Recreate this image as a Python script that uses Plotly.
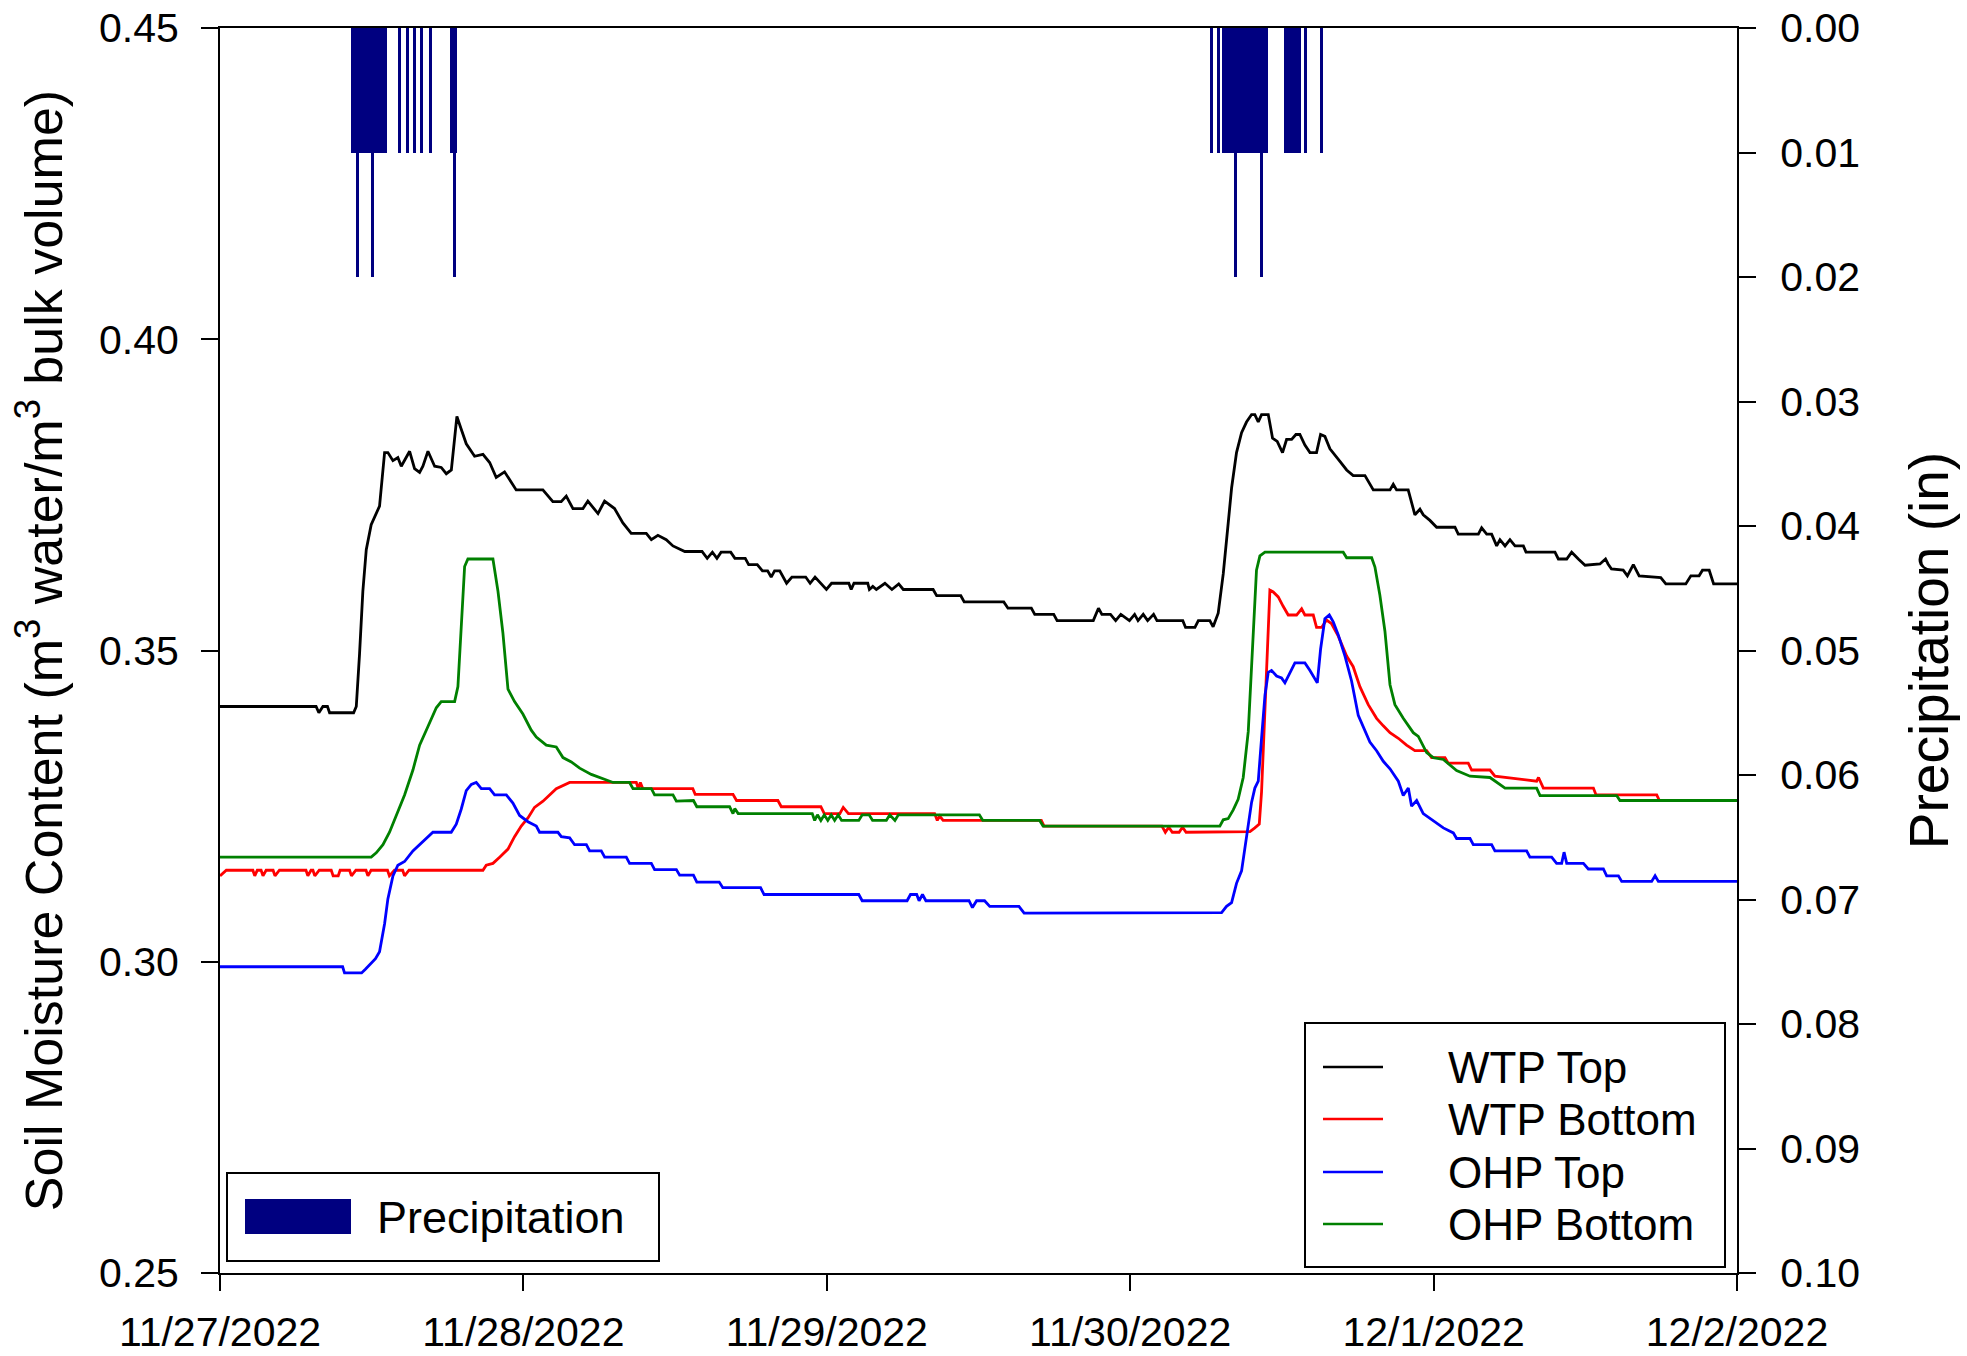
import pandas as pd
import plotly.graph_objects as go

# ---------------------------------------------------------------
# Data: soil moisture (m3/m3) read at hours after 11/27/2022 00:00
# ---------------------------------------------------------------
wtp_top_h = [0, 7.6, 7.82, 8.14, 8.5, 8.67, 10.57, 10.78, 11.04, 11.30, 11.57, 11.96, 12.62, 13.02,
             13.28, 13.68, 14.07, 14.34, 15.0, 15.39, 15.79, 16.05, 16.45, 16.98, 17.5, 17.9, 18.3,
             18.74, 19.09, 19.48, 20.14, 20.8, 21.33, 21.85, 22.51, 23.43, 25.54, 26.33, 26.99, 27.39,
             27.92, 28.71, 29.1, 29.9, 30.42, 31.21, 31.87, 32.53, 33.72, 34.12, 34.64, 35.3, 35.83,
             36.77, 38.13, 38.54, 38.95, 39.31, 39.64, 40.4, 40.73, 41.55, 41.82, 42.5, 42.91, 43.32,
             43.6, 43.87, 44.28, 44.82, 45.24, 46.33, 46.68, 47.07, 47.97, 48.38, 49.74, 49.93, 50.15,
             51.24, 51.37, 51.64, 51.92, 52.6, 53.15, 53.69, 54.05, 56.41, 56.69, 58.6, 58.87, 62.0,
             62.33, 64.18, 64.45, 65.95, 66.22, 69.08, 69.49, 69.76, 70.44, 70.85, 71.26, 71.94, 72.35,
             72.62, 73.03, 73.38, 73.85, 74.12, 76.16, 76.38, 77.12, 77.39, 78.3, 78.56, 78.96, 79.36,
             79.75, 80.02, 80.41, 80.81, 81.2, 81.6, 81.86, 82.13, 82.39, 82.92, 83.26, 83.63, 84.05,
             84.37, 84.77, 85.11, 85.42, 85.82, 86.22, 86.74, 87.06, 87.4, 87.8, 88.19, 88.59, 89.12,
             89.64, 90.57, 91.23, 92.55, 92.81, 93.07, 93.99, 94.52, 94.92, 95.18, 95.71, 96.24, 97.69,
             97.95, 99.54, 99.8, 100.2, 100.59, 100.99, 101.25, 101.65, 102.04, 102.44, 103.1, 103.31,
             105.6, 105.87, 106.53, 106.92, 107.45, 107.98, 109.16, 109.6, 109.8, 110.07, 111.0,
             111.33, 111.8, 112.26, 113.97, 114.37, 115.95, 116.35, 117.0, 117.27, 117.8, 118.15, 120.0]
wtp_top_v = [0.341, 0.341, 0.340, 0.341, 0.341, 0.340, 0.340, 0.341, 0.3495, 0.3595, 0.3662, 0.3702,
             0.3732, 0.3818, 0.3818, 0.3805, 0.381, 0.3796, 0.382, 0.3792, 0.3786, 0.3796, 0.382,
             0.3796, 0.3794, 0.3784, 0.379, 0.3876, 0.3855, 0.3832, 0.3812, 0.3815, 0.3802, 0.3778,
             0.3787, 0.3758, 0.3758, 0.3739, 0.3739, 0.3748, 0.3728, 0.3728, 0.374, 0.372, 0.374,
             0.3728, 0.3705, 0.3688, 0.3688, 0.3678, 0.3685, 0.3678, 0.3668, 0.3659, 0.3659, 0.3648,
             0.3658, 0.3648, 0.3658, 0.3658, 0.3648, 0.3648, 0.3638, 0.3638, 0.3628, 0.3628, 0.3618,
             0.3628, 0.3628, 0.3608, 0.3618, 0.3618, 0.3608, 0.3618, 0.3598, 0.3608, 0.3608, 0.3598,
             0.3608, 0.3608, 0.3598, 0.3603, 0.3598, 0.3608, 0.3598, 0.3607, 0.3598, 0.3598, 0.3588,
             0.3588, 0.3578, 0.3578, 0.3568, 0.3568, 0.3558, 0.3558, 0.3548, 0.3548, 0.3568, 0.3558,
             0.3558, 0.3548, 0.3558, 0.3548, 0.3558, 0.3548, 0.3558, 0.3548, 0.3558, 0.3548, 0.3548,
             0.3537, 0.3537, 0.3548, 0.3548, 0.3538, 0.3560, 0.3623, 0.3704, 0.3761, 0.3818, 0.3850,
             0.3867, 0.3879, 0.3879, 0.3867, 0.3879, 0.3879, 0.3841, 0.3836, 0.3818, 0.3839, 0.3839,
             0.3847, 0.3847, 0.3830, 0.3818, 0.3818, 0.3847, 0.3844, 0.3824, 0.3815, 0.3804, 0.3790,
             0.3781, 0.3781, 0.3758, 0.3758, 0.3767, 0.3758, 0.3758, 0.3718, 0.3727, 0.3718, 0.3709,
             0.3698, 0.3698, 0.3687, 0.3687, 0.3697, 0.3687, 0.3687, 0.3668, 0.3678, 0.3668, 0.3678,
             0.3668, 0.3668, 0.3658, 0.3658, 0.3647, 0.3647, 0.3658, 0.3647, 0.3637, 0.3639, 0.3647,
             0.3639, 0.3631, 0.3629, 0.3620, 0.3638, 0.3620, 0.3617, 0.3607, 0.3607, 0.3620, 0.3620,
             0.3629, 0.3629, 0.3607, 0.3607]

wtp_bot_h = [0, 0.5, 2.6, 2.75, 2.95, 3.25, 3.4, 3.65, 4.2, 4.35, 4.7, 6.8, 6.95, 7.2, 7.35, 7.5, 7.85,
             8.8, 8.95, 9.35, 9.5, 10.25, 10.4, 10.75, 11.55, 11.7, 11.95, 13.25, 13.4, 13.8, 14.45,
             14.6, 14.95, 20.8, 21.06, 21.59, 22.12, 22.78, 23.3, 23.83, 24.36, 24.88, 25.55, 26.07,
             26.6, 27.66, 32.93, 33.1, 33.25, 33.45, 37.4, 37.59, 40.58, 40.86, 44.13, 44.4, 47.53,
             47.8, 49.03, 49.3, 49.71, 56.53, 56.74, 56.93, 57.2, 64.97, 65.19, 74.51, 74.78, 75.05,
             75.33, 75.87, 76.14, 76.42, 81.47, 81.86, 82.21, 82.39, 82.66, 83.05, 83.31, 83.71, 84.1,
             84.5, 85.16, 85.56, 85.82, 86.48, 86.74, 87.14, 87.53, 87.93, 88.46, 89.12, 89.64, 90.17,
             90.83, 91.49, 92.02, 92.55, 93.21, 93.86, 94.52, 95.45, 95.84, 96.9, 97.16, 98.74, 99.01,
             100.46, 100.85, 104.15, 104.3, 104.68, 108.64, 108.85, 113.65, 113.86]
wtp_bot_v = [0.3138, 0.3147, 0.3147, 0.3138, 0.3147, 0.3147, 0.3138, 0.3147, 0.3147, 0.3138, 0.3147,
             0.3147, 0.3138, 0.3147, 0.3147, 0.3138, 0.3147, 0.3147, 0.3138, 0.3138, 0.3147, 0.3147,
             0.3138, 0.3147, 0.3147, 0.3138, 0.3147, 0.3147, 0.3138, 0.3147, 0.3147, 0.3138, 0.3147,
             0.3147, 0.3155, 0.3158, 0.3168, 0.3181, 0.3201, 0.3218, 0.3231, 0.3248, 0.3258, 0.3268,
             0.3278, 0.3288, 0.3288, 0.3278, 0.3288, 0.3278, 0.3278, 0.3269, 0.3269, 0.3259, 0.3259,
             0.3249, 0.3249, 0.3238, 0.3238, 0.3248, 0.3238, 0.3238, 0.3227, 0.3234, 0.3227, 0.3227,
             0.3218, 0.3218, 0.3208, 0.3216, 0.3208, 0.3208, 0.3216, 0.3208, 0.3209, 0.3215, 0.3221,
             0.3273, 0.3416, 0.3597, 0.3594, 0.3586, 0.3571, 0.3557, 0.3557, 0.3567, 0.3557, 0.3557,
             0.3537, 0.3537, 0.3549, 0.3543, 0.3523, 0.3491, 0.3474, 0.3442, 0.3413, 0.3391, 0.3379,
             0.3368, 0.3359, 0.3348, 0.3339, 0.3339, 0.3328, 0.3328, 0.3319, 0.3319, 0.3308, 0.3308,
             0.3298, 0.3290, 0.3296, 0.3279, 0.3279, 0.3268, 0.3268, 0.3259]

ohp_top_h = [0, 9.7, 9.85, 11.2, 11.5, 12.0, 12.3, 12.62, 13.02, 13.28, 13.68, 14.07, 14.6, 15.26, 15.79,
             16.45, 16.84, 18.29, 18.69, 19.08, 19.48, 19.88, 20.27, 20.67, 21.33, 21.72, 22.65, 23.17,
             23.7, 24.36, 25.02, 25.28, 26.73, 27.0, 27.66, 28.05, 28.98, 29.24, 30.16, 30.43, 32.14,
             32.4, 34.12, 34.38, 36.1, 36.36, 37.45, 37.72, 39.49, 39.77, 42.76, 43.04, 50.53, 50.8,
             54.35, 54.62, 55.11, 55.3, 55.57, 55.84, 59.25, 59.52, 59.85, 60.48, 60.89, 63.2, 63.61,
             79.23, 79.62, 80.02, 80.41, 80.81, 81.2, 81.6, 81.86, 82.13, 82.39, 82.66, 82.92, 83.18,
             83.58, 83.97, 84.24, 84.63, 85.03, 85.82, 86.22, 86.8, 87.06, 87.4, 87.75, 88.06, 88.46,
             88.99, 89.51, 90.04, 90.44, 90.96, 91.49, 92.02, 92.55, 93.21, 93.6, 94.0, 94.26, 94.66,
             95.18, 95.98, 96.77, 97.56, 97.82, 98.88, 99.14, 100.59, 100.85, 103.36, 103.62, 105.34,
             105.73, 106.13, 106.32, 106.53, 107.85, 108.24, 109.43, 109.69, 110.62, 110.88, 113.25,
             113.52, 113.78, 120.0]
ohp_top_v = [0.2992, 0.2992, 0.2982, 0.2982, 0.2988, 0.2998, 0.3005, 0.3016, 0.3061, 0.3101, 0.3138,
             0.3155, 0.3161, 0.3178, 0.3188, 0.3201, 0.3208, 0.3208, 0.3221, 0.3245, 0.3275, 0.3285,
             0.3288, 0.3278, 0.3278, 0.3268, 0.3268, 0.3255, 0.3235, 0.3225, 0.3218, 0.3208, 0.3208,
             0.3201, 0.3199, 0.3188, 0.3188, 0.3178, 0.3178, 0.3168, 0.3168, 0.3158, 0.3158, 0.3148,
             0.3148, 0.3139, 0.3139, 0.3128, 0.3128, 0.3119, 0.3119, 0.3108, 0.3108, 0.3098, 0.3098,
             0.3108, 0.3108, 0.3098, 0.3108, 0.3098, 0.3098, 0.3087, 0.3098, 0.3098, 0.3089, 0.3089,
             0.3078, 0.3079, 0.3089, 0.3095, 0.3126, 0.3146, 0.3198, 0.3256, 0.3279, 0.3290, 0.3359,
             0.3428, 0.3465, 0.3468, 0.3459, 0.3456, 0.3448, 0.3465, 0.3480, 0.3480, 0.3468, 0.3448,
             0.3502, 0.3551, 0.3557, 0.3546, 0.3525, 0.3491, 0.3451, 0.3396, 0.3376, 0.3353, 0.3339,
             0.3322, 0.3310, 0.3290, 0.3267, 0.3279, 0.3250, 0.3259, 0.3238, 0.3227, 0.3215, 0.3207,
             0.3198, 0.3198, 0.3188, 0.3188, 0.3178, 0.3178, 0.3168, 0.3168, 0.3158, 0.3158, 0.3176,
             0.3158, 0.3158, 0.3149, 0.3149, 0.3138, 0.3138, 0.3129, 0.3129, 0.3138, 0.3129, 0.3129]

ohp_bot_h = [0, 11.96, 12.36, 12.89, 13.41, 13.94, 14.6, 15.26, 15.79, 16.45, 17.11, 17.5, 18.56, 18.82,
             19.08, 19.35, 19.61, 21.59, 21.99, 22.38, 22.78, 23.3, 23.96, 24.62, 25.02, 25.81, 26.6,
             27.13, 27.79, 28.45, 29.37, 31.09, 32.4, 32.67, 34.12, 34.38, 35.83, 36.1, 37.45, 37.72,
             40.31, 40.58, 40.72, 40.99, 46.85, 47.04, 47.26, 47.53, 47.8, 48.08, 48.35, 48.62, 48.9,
             49.17, 50.53, 50.8, 51.35, 51.62, 52.71, 52.98, 53.39, 53.66, 60.07, 60.34, 64.84, 65.11,
             79.09, 79.36, 79.75, 80.15, 80.54, 80.94, 81.34, 81.6, 81.86, 81.99, 82.26, 82.66, 88.85,
             89.12, 91.1, 91.36, 91.75, 92.15, 92.55, 92.94, 93.6, 94.39, 94.79, 95.45, 95.98, 96.77,
             97.82, 98.88, 100.46, 101.65, 104.15, 104.42, 110.48, 110.74, 120.0]
ohp_bot_v = [0.3168, 0.3168, 0.3175, 0.3188, 0.3208, 0.3235, 0.3268, 0.3308, 0.3348, 0.3378, 0.3408,
             0.3418, 0.3418, 0.3442, 0.3535, 0.3635, 0.3647, 0.3647, 0.3595, 0.3528, 0.3438, 0.3418,
             0.3398, 0.3372, 0.3361, 0.3348, 0.3345, 0.3328, 0.3321, 0.3311, 0.3301, 0.3288, 0.3288,
             0.3278, 0.3278, 0.3268, 0.3268, 0.3258, 0.3259, 0.3249, 0.3249, 0.3238, 0.3246, 0.3238,
             0.3238, 0.3227, 0.3236, 0.3227, 0.3236, 0.3227, 0.3236, 0.3227, 0.3236, 0.3227, 0.3227,
             0.3236, 0.3236, 0.3227, 0.3227, 0.3236, 0.3227, 0.3236, 0.3236, 0.3227, 0.3227, 0.3218,
             0.3218, 0.3228, 0.3230, 0.3244, 0.3261, 0.3296, 0.3370, 0.3474, 0.3577, 0.3629, 0.3652,
             0.3658, 0.3658, 0.3649, 0.3649, 0.3634, 0.3589, 0.3531, 0.3445, 0.3413, 0.3391, 0.3368,
             0.3362, 0.3336, 0.3328, 0.3325, 0.3307, 0.3298, 0.3296, 0.3279, 0.3279, 0.3267, 0.3267,
             0.3259, 0.3259]

# Precipitation (in) per reading
precip_time = ["2022-11-27 10:30", "2022-11-27 10:40", "2022-11-27 10:51", "2022-11-27 11:00",
               "2022-11-27 11:10", "2022-11-27 11:20", "2022-11-27 11:30", "2022-11-27 11:40",
               "2022-11-27 11:50", "2022-11-27 12:00", "2022-11-27 12:06", "2022-11-27 12:15",
               "2022-11-27 12:25", "2022-11-27 12:35", "2022-11-27 12:45", "2022-11-27 12:55",
               "2022-11-27 13:05", "2022-11-27 14:11", "2022-11-27 14:49", "2022-11-27 15:22",
               "2022-11-27 15:55", "2022-11-27 16:38", "2022-11-27 18:20", "2022-11-27 18:32",
               "2022-11-27 18:40",
               "2022-11-30 06:28", "2022-11-30 06:59", "2022-11-30 07:25", "2022-11-30 07:35",
               "2022-11-30 07:45", "2022-11-30 07:55", "2022-11-30 08:05", "2022-11-30 08:12",
               "2022-11-30 08:19", "2022-11-30 08:30", "2022-11-30 08:40", "2022-11-30 08:50",
               "2022-11-30 09:00", "2022-11-30 09:10", "2022-11-30 09:20", "2022-11-30 09:30",
               "2022-11-30 09:40", "2022-11-30 09:50", "2022-11-30 10:00", "2022-11-30 10:10",
               "2022-11-30 10:18", "2022-11-30 10:25", "2022-11-30 10:35", "2022-11-30 10:42",
               "2022-11-30 10:49", "2022-11-30 12:15", "2022-11-30 12:25", "2022-11-30 12:35",
               "2022-11-30 12:45", "2022-11-30 12:55", "2022-11-30 13:05", "2022-11-30 13:15",
               "2022-11-30 13:25", "2022-11-30 13:50", "2022-11-30 15:08"]
precip_in = [0.01, 0.01, 0.02, 0.01, 0.01, 0.01, 0.01, 0.01, 0.01, 0.01, 0.02, 0.01, 0.01, 0.01, 0.01,
             0.01, 0.01, 0.01, 0.01, 0.01, 0.01, 0.01, 0.01, 0.02, 0.01,
             0.01, 0.01, 0.01, 0.01, 0.01, 0.01, 0.01, 0.01, 0.02, 0.01, 0.01, 0.01, 0.01, 0.01, 0.01,
             0.01, 0.01, 0.01, 0.01, 0.01, 0.01, 0.02, 0.01, 0.01, 0.01, 0.01, 0.01, 0.01, 0.01, 0.01,
             0.01, 0.01, 0.01, 0.01, 0.01]

series_names = ["WTP Top", "WTP Bottom", "OHP Top", "OHP Bottom"]
series_colors = ["#000000", "#ff0000", "#0000ff", "#008000"]
series_data = [(wtp_top_h, wtp_top_v), (wtp_bot_h, wtp_bot_v),
               (ohp_top_h, ohp_top_v), (ohp_bot_h, ohp_bot_v)]

date_ticks = ["2022-11-27", "2022-11-28", "2022-11-29", "2022-11-30", "2022-12-01", "2022-12-02"]
date_labels = ["11/27/2022", "11/28/2022", "11/29/2022", "11/30/2022", "12/1/2022", "12/2/2022"]
moisture_ticks = [0.25, 0.30, 0.35, 0.40, 0.45]
precip_ticks = [0.00, 0.01, 0.02, 0.03, 0.04, 0.05, 0.06, 0.07, 0.08, 0.09, 0.10]

START = pd.Timestamp("2022-11-27 00:00")
FONT = "Liberation Sans, Arial, sans-serif"
W, H = 1967, 1356
ML, MR, MT, MB = 220, 230, 28, 83

fig = go.Figure()

fig.add_trace(go.Bar(
    x=pd.to_datetime(precip_time), y=precip_in, yaxis="y2", name="Precipitation",
    width=14 * 60 * 1000, marker=dict(color="#000080", line=dict(width=0)),
    showlegend=False,
))

for name, color, (hrs, vals) in zip(series_names, series_colors, series_data):
    fig.add_trace(go.Scatter(
        x=START + pd.to_timedelta(hrs, unit="h"), y=vals, mode="lines", name=name,
        line=dict(color=color, width=2.8), showlegend=False,
    ))

axis_common = dict(showline=True, linecolor="black", linewidth=2, ticks="outside",
                   tickcolor="black", tickwidth=2, showgrid=False, zeroline=False,
                   automargin=False,
                   tickfont=dict(family=FONT, size=41, color="black"))

fig.update_layout(
    width=W, height=H,
    margin=dict(l=ML, r=MR, t=MT, b=MB, autoexpand=False),
    paper_bgcolor="white", plot_bgcolor="white",
    font=dict(family=FONT, color="black"),
    showlegend=False,
    xaxis=dict(type="date", range=[date_ticks[0], date_ticks[-1]], tickvals=date_ticks,
               ticktext=date_labels, ticklen=16, mirror=True, ticklabelstandoff=6,
               **axis_common),
    yaxis=dict(range=[0.25, 0.45], tickvals=moisture_ticks, tickformat=".2f", ticklen=17,
               ticklabelstandoff=14,
               title=dict(text="Soil Moisture Content (m<sup>3</sup> water/m<sup>3</sup> bulk volume)",
                          font=dict(family=FONT, size=52), standoff=20),
               **axis_common),
    yaxis2=dict(overlaying="y", side="right", range=[0.10, 0.0], tickvals=precip_ticks,
                tickformat=".2f", ticklen=17, ticklabelstandoff=16,
                title=dict(text="Precipitation (in)", font=dict(family=FONT, size=55), standoff=50),
                **axis_common),
    bargap=0,
)


# Legend boxes drawn in pixel positions of the plot area
def px_x(px):
    return (px - ML) / (W - ML - MR)


def px_y(py):
    return (H - MB - py) / (H - MT - MB)


shapes = []
annotations = []

# Line-series legend
shapes.append(dict(type="rect", xref="paper", yref="paper", x0=px_x(1305), x1=px_x(1725),
                   y0=px_y(1267), y1=px_y(1023), line=dict(color="black", width=2),
                   fillcolor="white", layer="above"))
row_y = [1067, 1119, 1172, 1224]
for name, color, ry in zip(series_names, series_colors, row_y):
    shapes.append(dict(type="line", xref="paper", yref="paper", x0=px_x(1323), x1=px_x(1383),
                       y0=px_y(ry), y1=px_y(ry), line=dict(color=color, width=2.5), layer="above"))
    annotations.append(dict(xref="paper", yref="paper", x=px_x(1446), y=px_y(ry), text=name,
                            showarrow=False, xanchor="left", yanchor="middle",
                            font=dict(family=FONT, size=44, color="black")))

# Precipitation legend
shapes.append(dict(type="rect", xref="paper", yref="paper", x0=px_x(227), x1=px_x(659),
                   y0=px_y(1261), y1=px_y(1173), line=dict(color="black", width=2),
                   fillcolor="white", layer="above"))
shapes.append(dict(type="rect", xref="paper", yref="paper", x0=px_x(245), x1=px_x(351),
                   y0=px_y(1234), y1=px_y(1199), line=dict(width=0), fillcolor="#000080",
                   layer="above"))
annotations.append(dict(xref="paper", yref="paper", x=px_x(375), y=px_y(1217), text="Precipitation",
                        showarrow=False, xanchor="left", yanchor="middle",
                        font=dict(family=FONT, size=45, color="black")))

fig.update_layout(shapes=shapes, annotations=annotations)

fig.write_html("out.html")
